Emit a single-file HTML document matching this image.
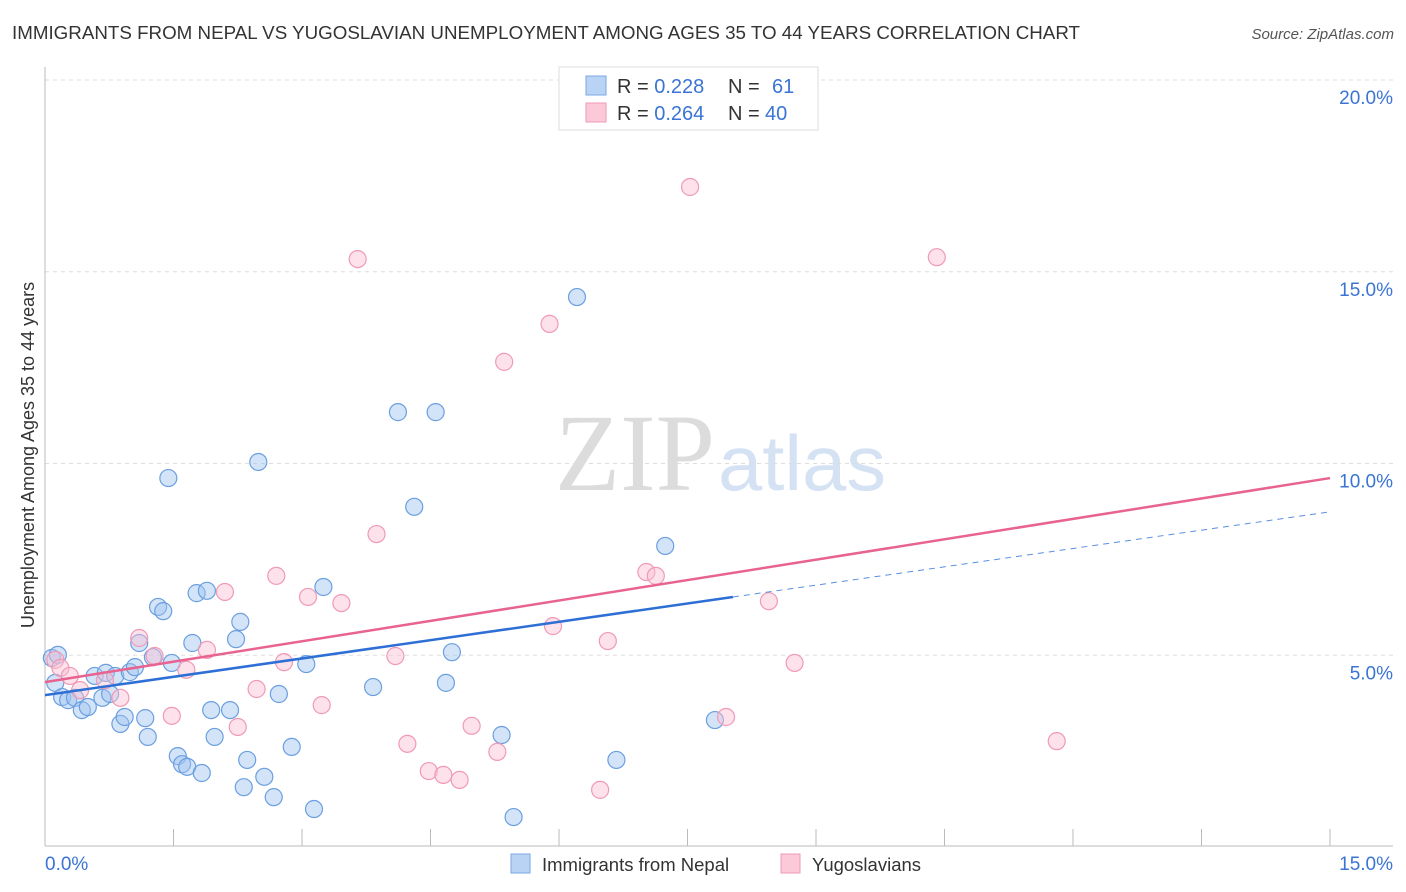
<!DOCTYPE html>
<html><head><meta charset="utf-8"><style>
body{margin:0;background:#fff;font-family:"Liberation Sans",sans-serif;}
#wrap{position:relative;width:1406px;height:892px;overflow:hidden;}
</style></head><body>
<div id="wrap">
<svg id="chart" width="1406" height="892" xmlns="http://www.w3.org/2000/svg">
<text x="12" y="39" font-size="18.5" fill="#333" textLength="1068" lengthAdjust="spacingAndGlyphs">IMMIGRANTS FROM NEPAL VS YUGOSLAVIAN UNEMPLOYMENT AMONG AGES 35 TO 44 YEARS CORRELATION CHART</text>
<text x="1394" y="39" font-size="15" fill="#555" text-anchor="end" font-style="italic">Source: ZipAtlas.com</text>
<text x="555" y="490" font-size="110" fill="#dcdcdc" textLength="160" lengthAdjust="spacingAndGlyphs" font-family="Liberation Serif, serif">ZIP</text>
<text x="718" y="490" font-size="78" fill="#d4e2f3" textLength="168" lengthAdjust="spacingAndGlyphs">atlas</text>
<text transform="translate(34,455) rotate(-90)" font-size="18" fill="#333" text-anchor="middle">Unemployment Among Ages 35 to 44 years</text>
<g id="grid"></g><g id="marks"></g><g id="trend"></g>
<g>
<rect x="559" y="67" width="259" height="63" fill="#fff" stroke="#ddd"/>
<rect x="586" y="76" width="20" height="19" fill="#b9d3f5" stroke="#7aa7e3"/>
<rect x="586" y="103" width="20" height="19" fill="#fbc9d8" stroke="#ee9ab4"/>
<text x="617" y="93" font-size="20" fill="#333">R = <tspan fill="#3a74d4">0.228</tspan><tspan x="728">N = </tspan><tspan x="772" fill="#3a74d4">61</tspan></text>
<text x="617" y="120" font-size="20" fill="#333">R = <tspan fill="#3a74d4">0.264</tspan><tspan x="728">N = </tspan><tspan x="765" fill="#3a74d4">40</tspan></text>
</g>
<g>
<rect x="511" y="854" width="19" height="19" fill="#b9d3f5" stroke="#7aa7e3"/>
<text x="542" y="871" font-size="18.5" fill="#333">Immigrants from Nepal</text>
<rect x="781" y="854" width="19" height="19" fill="#fbc9d8" stroke="#ee9ab4"/>
<text x="812" y="871" font-size="18.5" fill="#333">Yugoslavians</text>
</g>
</svg>
</div>
<script>
const nepalX=[0.08,0.12,0.15,0.20,0.27,0.35,0.43,0.50,0.58,0.67,0.71,0.76,0.82,0.88,0.93,0.99,1.05,1.10,1.17,1.20,1.26,1.32,1.38,1.44,1.48,1.55,1.60,1.66,1.72,1.77,1.83,1.89,1.94,1.98,2.16,2.23,2.28,2.32,2.36,2.49,2.56,2.67,2.73,2.88,3.05,3.14,3.25,3.83,4.12,4.31,4.56,4.68,4.75,5.33,5.47,6.21,6.67,7.24,7.82];
const nepalY=[4.93,4.28,5.01,3.91,3.83,3.89,3.57,3.65,4.46,3.89,4.54,3.99,4.46,3.21,3.39,4.56,4.69,5.32,3.36,2.87,4.95,6.26,6.15,9.62,4.80,2.37,2.16,2.09,5.32,6.62,1.93,6.68,3.57,2.87,3.57,5.42,5.87,1.56,2.27,10.04,1.83,1.30,3.99,2.61,4.77,0.99,6.78,4.17,11.34,8.87,11.34,4.28,5.08,2.92,0.78,14.34,2.27,7.85,3.31];
const yugoX=[0.12,0.18,0.29,0.41,0.70,0.88,1.10,1.28,1.48,1.65,1.89,2.10,2.25,2.47,2.70,2.79,3.07,3.23,3.46,3.65,3.87,4.09,4.23,4.48,4.65,4.84,4.98,5.28,5.36,5.89,5.93,6.48,6.57,7.02,7.13,7.53,7.95,8.45,8.75,10.41,11.81];
const yugoY=[4.88,4.67,4.46,4.09,4.35,3.89,5.45,4.98,3.42,4.62,5.14,6.65,3.13,4.12,7.07,4.82,6.52,3.70,6.36,15.33,8.16,4.98,2.69,1.98,1.88,1.75,3.16,2.48,12.65,13.64,5.76,1.49,5.37,7.17,7.07,17.21,3.39,6.41,4.80,15.38,2.76];
const nepalTrend=[3.96,8.74]; const nepalSolidEnd=8.03;
const yugoTrend=[4.30,9.62];
const yTicks=[5,10,15,20]; const yTickLabels=["5.0%","10.0%","15.0%","20.0%"];
const xTicks=[0,1.5,3,4.5,6,7.5,9,10.5,12,13.5,15];
const NS="http://www.w3.org/2000/svg";
const sx=v=>45+v/15*1285, sy=v=>847-v*38.35;
function mk(tag,attrs,parent){const e=document.createElementNS(NS,tag);for(const k in attrs)e.setAttribute(k,attrs[k]);document.getElementById(parent).appendChild(e);return e;}
yTicks.forEach((t,i)=>{
 const g=mk('line',{x1:45,x2:1393,y1:sy(t),y2:sy(t),stroke:'#ddd','stroke-dasharray':'4,4'},'grid');
 
 
 const l=mk('text',{x:1393,y:sy(t)+24,'font-size':19,fill:'#3a74d4','text-anchor':'end'},'grid');l.textContent=yTickLabels[i];
 
 
});
const ax=mk('line',{x1:45,x2:45,y1:67,y2:846,stroke:'#bbb'},'grid');


const bx=mk('line',{x1:45,x2:1393,y1:846,y2:846,stroke:'#bbb'},'grid');


xTicks.forEach(t=>{const e=mk('line',{x1:sx(t),x2:sx(t),y1:829,y2:846,stroke:'#bbb'},'grid');
 
 });
const x0=mk('text',{x:45,y:870,'font-size':19,fill:'#3a74d4'},'grid');x0.textContent='0.0%';


const x1=mk('text',{x:1393,y:870,'font-size':19,fill:'#3a74d4','text-anchor':'end'},'grid');x1.textContent='15.0%';


nepalX.forEach((v,i)=>{const c=mk('circle',{cx:sx(v),cy:sy(nepalY[i]),r:8.5,fill:'rgba(160,195,240,0.45)',stroke:'#6a9fe0','stroke-width':1.2},'marks');
 
 });
yugoX.forEach((v,i)=>{const c=mk('circle',{cx:sx(v),cy:sy(yugoY[i]),r:8.5,fill:'rgba(250,190,210,0.45)',stroke:'#f09ab5','stroke-width':1.2},'marks');
 
 });
const ny=v=>nepalTrend[0]+(nepalTrend[1]-nepalTrend[0])*v/15;
const t1=mk('line',{x1:sx(0),y1:sy(ny(0)),x2:sx(nepalSolidEnd),y2:sy(ny(nepalSolidEnd)),stroke:'#2e6fd6','stroke-width':2.5},'trend');


const t2=mk('line',{x1:sx(nepalSolidEnd),y1:sy(ny(nepalSolidEnd)),x2:sx(15),y2:sy(ny(15)),stroke:'#5a8fe0','stroke-width':1,'stroke-dasharray':'6,5'},'trend');


const t3=mk('line',{x1:sx(0),y1:sy(yugoTrend[0]),x2:sx(15),y2:sy(yugoTrend[1]),stroke:'#e8638f','stroke-width':2.5},'trend');


</script>
</body></html>
